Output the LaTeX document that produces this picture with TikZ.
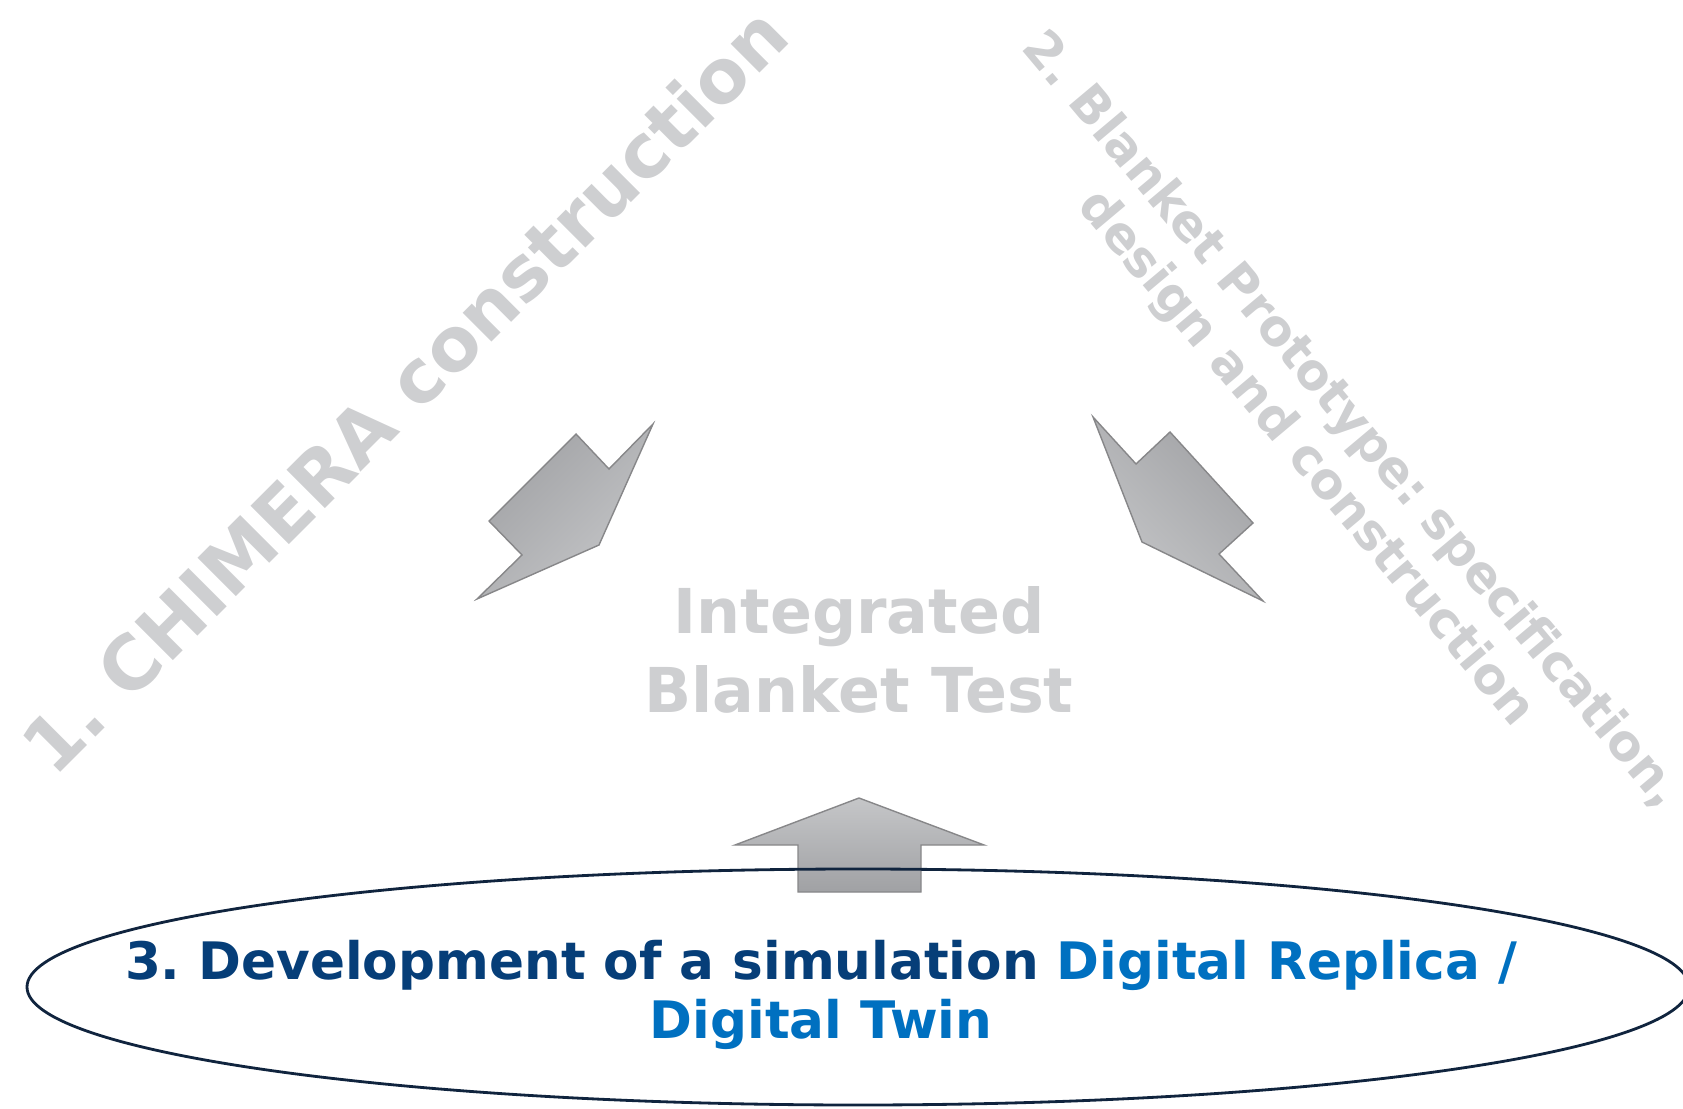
\documentclass[tikz,border=0pt]{standalone}
\usepackage{fontspec}
\setsansfont{DejaVu Sans}
\usetikzlibrary{shapes.geometric}

\definecolor{labelgray}{RGB}{206,207,209}
\definecolor{arrowdark}{RGB}{160,161,164}
\definecolor{arrowlight}{RGB}{197,198,200}
\definecolor{arrowedge}{RGB}{135,135,137}
\definecolor{navyline}{RGB}{16,36,62}
\definecolor{darkblue}{RGB}{6,62,120}
\definecolor{midblue}{RGB}{0,112,192}

\begin{document}
\begin{tikzpicture}[
    font=\sffamily\bfseries\frenchspacing,
    phase/.style={text=labelgray, align=center, inner sep=0pt},
    blockarrow/.style={draw=arrowedge, line width=0.4pt, line join=miter},
    stage/.style={draw=navyline, ellipse, line width=0.8pt, inner sep=0pt}
]

\useasboundingbox (0,0) rectangle (16.83,-11.09);

% ==========================================
% THE THREE PHASES
% ==========================================

\node[phase, rotate=45, font=\sffamily\bfseries\frenchspacing\fontsize{21.2}{24}\selectfont] (Chimera) at (4.04,-3.90) {1. CHIMERA construction};

\node[phase, rotate=-50, font=\sffamily\bfseries\frenchspacing\fontsize{14.2}{16.8}\selectfont] (Prototype) at (13.28,-4.40) {2. Blanket Prototype: specification,\\design and construction};

% ==========================================
% CENTRE: TEST
% ==========================================

\node[phase, font=\sffamily\bfseries\fontsize{17.6}{22.5}\selectfont] (Test) at (8.59,-6.50) {Integrated\\Blanket Test};

% Arrows pointing to the centre
\draw[blockarrow, top color=arrowdark, bottom color=arrowlight, shading angle=45]
    (6.53,-4.24) -- (6.09,-4.69) -- (5.76,-4.34) -- (4.89,-5.21) -- (5.22,-5.55) -- (4.77,-5.99) -- (5.99,-5.45) -- cycle;
\draw[blockarrow, top color=arrowdark, bottom color=arrowlight, shading angle=-45]
    (10.93,-4.17) -- (11.36,-4.64) -- (11.70,-4.32) -- (12.53,-5.23) -- (12.19,-5.54) -- (12.63,-6.01) -- (11.42,-5.42) -- cycle;
\draw[blockarrow, top color=arrowlight, bottom color=arrowdark]
    (8.59,-7.98) -- (9.84,-8.45) -- (9.21,-8.45) -- (9.21,-8.92) -- (7.98,-8.92) -- (7.98,-8.45) -- (7.35,-8.45) -- cycle;

% ==========================================
% BOTTOM: DIGITAL REPLICA
% ==========================================

\node[stage, minimum width=16.62cm, minimum height=2.36cm] (Replica) at (8.58,-9.87) {};

\node[align=center, inner sep=0pt, text=darkblue, font=\sffamily\bfseries\frenchspacing\fontsize{14.7}{17}\selectfont] (ReplicaText) at (8.21,-9.95)
    {3. Development of a simulation \textcolor{midblue}{Digital Replica /}\\\textcolor{midblue}{Digital Twin}};

\end{tikzpicture}
\end{document}
